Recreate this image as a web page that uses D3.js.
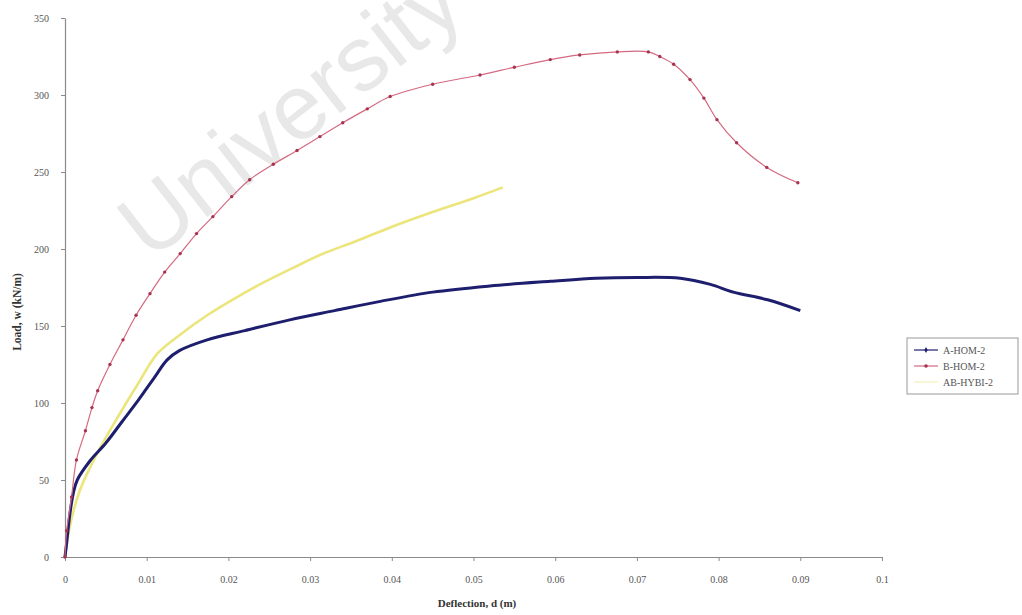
<!DOCTYPE html>
<html>
<head>
<meta charset="utf-8">
<script src="https://cdn.jsdelivr.net/npm/d3@7"></script>
<style>
  body { margin: 0; background: #fff; }
  .chart text { font-family: 'Liberation Serif', 'DejaVu Serif', serif; }
</style>
</head>
<body>
<div class="chart"></div>
<script>
// Deflection (m), Load (kN/m) pairs
const aHom2 = [
  [0, 0], [0.0002, 9], [0.0006, 28], [0.001, 41], [0.0015, 50], [0.003, 62],
  [0.005, 74], [0.007, 88], [0.009, 102], [0.011, 117], [0.0125, 128],
  [0.014, 134], [0.0174, 141], [0.022, 147], [0.0275, 154], [0.033, 160],
  [0.0386, 166], [0.045, 172], [0.052, 176], [0.0594, 179], [0.065, 181],
  [0.07, 181.5], [0.0753, 181], [0.079, 177], [0.0818, 172], [0.086, 167],
  [0.09, 160],
];
const bHom2 = [
  [0, 0], [0.0002, 17], [0.0008, 39], [0.0014, 63], [0.0025, 82], [0.0033, 97],
  [0.004, 108], [0.0055, 125], [0.0071, 141], [0.0087, 157], [0.0104, 171],
  [0.0122, 185], [0.0141, 197], [0.0161, 210], [0.0181, 221], [0.0204, 234],
  [0.0226, 245], [0.0255, 255], [0.0284, 264], [0.0312, 273], [0.034, 282],
  [0.037, 291], [0.0398, 299], [0.045, 307], [0.0508, 313], [0.055, 318],
  [0.0594, 323], [0.063, 326], [0.0676, 328], [0.0714, 328], [0.0728, 325],
  [0.0745, 320], [0.0765, 310], [0.0782, 298], [0.0798, 284], [0.0822, 269],
  [0.0859, 253], [0.0897, 243],
];
const abHybi2 = [
  [0, 0], [0.0006, 20], [0.0018, 43], [0.0039, 67], [0.0067, 93], [0.009, 113],
  [0.0113, 132], [0.014, 144], [0.0174, 157], [0.0208, 168], [0.0242, 178],
  [0.028, 188], [0.0316, 197], [0.0356, 205], [0.0398, 214], [0.045, 224],
  [0.05, 233], [0.0536, 240],
];

const seriesNames = ['A-HOM-2', 'B-HOM-2', 'AB-HYBI-2'];
const xTicks = [0, 0.01, 0.02, 0.03, 0.04, 0.05, 0.06, 0.07, 0.08, 0.09, 0.1];
const xTickLabels = ['0', '0.01', '0.02', '0.03', '0.04', '0.05', '0.06', '0.07', '0.08', '0.09', '0.1'];
const yTicks = [0, 50, 100, 150, 200, 250, 300, 350];

const width = 1022;
const height = 615;
const margin = {left: 65, top: 18, right: 140, bottom: 58};

const svg = d3.select('.chart').append('svg')
  .attr('width', width)
  .attr('height', height);

const scaleX = d3.scaleLinear().domain([0, 0.1]).range([margin.left, width - margin.right]);
const scaleY = d3.scaleLinear().domain([0, 350]).range([height - margin.bottom, margin.top]);

// watermark
svg.append('text')
  .attr('transform', 'translate(150,262) rotate(-38)')
  .style('font-family', "'Liberation Sans', Arial, sans-serif")
  .style('font-size', '92px')
  .style('fill', '#e8e8e8')
  .text('University');

// axes
const xAxis = d3.axisBottom(scaleX)
  .tickValues(xTicks)
  .tickFormat((d, i) => xTickLabels[i])
  .tickSize(4)
  .tickSizeOuter(0);
const yAxis = d3.axisLeft(scaleY)
  .tickValues(yTicks)
  .tickSize(4)
  .tickSizeOuter(0);

const gx = svg.append('g')
  .attr('transform', `translate(0,${scaleY(0)})`)
  .call(xAxis);
const gy = svg.append('g')
  .attr('transform', `translate(${scaleX(0)},0)`)
  .call(yAxis);

[gx, gy].forEach((g) => {
  g.select('.domain').style('stroke', '#8a8a8a').style('stroke-width', 1.2);
  g.selectAll('.tick line').style('stroke', '#8a8a8a');
  g.selectAll('.tick text')
    .style('font-size', '10px')
    .style('fill', '#555')
    .style('font-family', "'Liberation Serif', serif");
});
gx.selectAll('.tick text').attr('dy', '1.9em');
gy.selectAll('.tick text').attr('dx', '-0.9em');

svg.append('text')
  .attr('x', 477)
  .attr('y', 607)
  .attr('text-anchor', 'middle')
  .style('font-size', '11px')
  .style('font-weight', 'bold')
  .style('fill', '#333')
  .text('Deflection, d (m)');

svg.append('text')
  .attr('transform', 'translate(21,312) rotate(-90)')
  .attr('text-anchor', 'middle')
  .style('font-size', '11.5px')
  .style('font-weight', 'bold')
  .style('fill', '#333')
  .text('Load, w (kN/m)');

// series
const line = d3.line()
  .x((d) => scaleX(d[0]))
  .y((d) => scaleY(d[1]))
  .curve(d3.curveCatmullRom);

svg.append('path')
  .datum(abHybi2)
  .attr('d', line)
  .style('fill', 'none')
  .style('stroke', '#ebe57c')
  .style('stroke-width', 2.6);

svg.append('path')
  .datum(aHom2)
  .attr('d', line)
  .style('fill', 'none')
  .style('stroke', '#1e1e6e')
  .style('stroke-width', 3);

svg.append('path')
  .datum(bHom2)
  .attr('d', line)
  .style('fill', 'none')
  .style('stroke', '#d46a80')
  .style('stroke-width', 1.2);

svg.append('g')
  .selectAll('circle')
  .data(bHom2)
  .enter().append('circle')
  .attr('cx', (d) => scaleX(d[0]))
  .attr('cy', (d) => scaleY(d[1]))
  .attr('r', 1.7)
  .style('fill', '#a8334f');

// legend
const legend = svg.append('g').attr('transform', 'translate(907,338)');
legend.append('rect')
  .attr('width', 111)
  .attr('height', 56)
  .style('fill', '#fff')
  .style('stroke', '#999');

const legendColors = ['#1e1e6e', '#d46a80', '#f4f0b8'];
const items = legend.selectAll('.item')
  .data(seriesNames)
  .enter().append('g')
  .attr('class', 'item')
  .attr('transform', (d, i) => `translate(0,${12 + i * 16})`);

items.append('line')
  .attr('x1', 7)
  .attr('x2', 31)
  .style('stroke', (d, i) => legendColors[i])
  .style('stroke-width', 1.2);

items.filter((d, i) => i === 0).append('path')
  .attr('d', d3.symbol(d3.symbolDiamond, 10))
  .attr('transform', 'translate(19,0)')
  .style('fill', '#1e1e6e');
items.filter((d, i) => i === 1).append('circle')
  .attr('cx', 19)
  .attr('r', 1.8)
  .style('fill', '#a8334f');

items.append('text')
  .attr('x', 36)
  .attr('dy', '0.35em')
  .style('font-size', '10px')
  .style('fill', '#555')
  .text((d) => d);
</script>
</body>
</html>
